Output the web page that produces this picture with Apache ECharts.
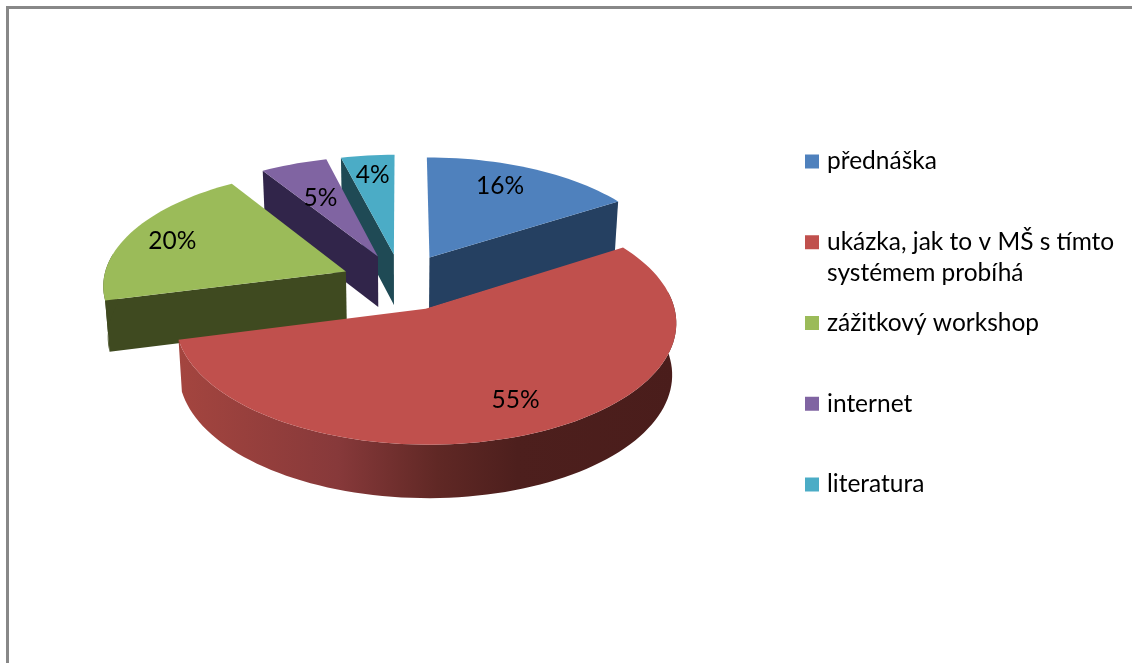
<!DOCTYPE html>
<html><head><meta charset="utf-8">
<script src="https://cdn.jsdelivr.net/npm/echarts@6/dist/echarts.min.js"></script>
<style>html,body{margin:0;padding:0;background:#fff}#c{width:1132px;height:663px}</style>
</head><body><div id="c"></div>
<script>
const categoryLines = [['přednáška'],['ukázka, jak to v MŠ s tímto','systémem probíhá'],['zážitkový workshop'],['internet'],['literatura']];
const categories = categoryLines.map(l => l.join(' '));
const values = [16, 55, 20, 5, 4];
const topColors = ['#4f81bd','#c0504d','#9bbb59','#8064a2','#4bacc6'];
const wallColors = ['#254061','#4f1f1d','#3f4a20','#31254a','#1f4a55'];
const drawOrder = [4,3,2,0,1];
const labelNudge = [[-8,-3],[8,1],[-12,0],[7,13],[-1,-3]];

const P = {cx:401.2, cy:282, R:243, Ry:115.5, k:0.105, explode:0.247, depth:51, shrink:0.985, labelR:0.75};
const FONT = 'Lato, "Open Sans", sans-serif';
const total = values.reduce((a,b)=>a+b,0);
const D2R = Math.PI/180;

function project(U,V){
  const s = 1/(1+P.k*V);
  return {x:P.cx + P.R*U*s, y:P.cy - P.Ry*V*s, s};
}
function lower(p){ return [P.cx + (p.x-P.cx)*P.shrink, p.y + P.depth*Math.pow(p.s,0.35)]; }
const flat = p => [p.x,p.y];

function sliceShapes(i){
  const before = values.slice(0,i).reduce((a,b)=>a+b,0);
  const a0 = before/total*360, a1 = (before+values[i])/total*360, mid=(a0+a1)/2;
  const ox = Math.sin(mid*D2R)*P.explode, oy = Math.cos(mid*D2R)*P.explode;
  const pt = (deg,r) => project(ox+r*Math.sin(deg*D2R), oy+r*Math.cos(deg*D2R));
  const steps = Math.max(8, Math.ceil((a1-a0)/2));
  const rim = [], front = [];
  for(let j=0;j<=steps;j++){
    const deg = a0+(a1-a0)*j/steps, p = pt(deg,1);
    rim.push(p);
    if(deg>=80 && deg<=280) front.push(p);
  }
  return {a0, a1, apex:pt(0,0), rim, front, label:pt(mid,P.labelR)};
}

function renderSlice(i){
  return function(){
    const g = sliceShapes(i);
    const wall = wallColors[i];
    const rimTop = g.rim.map(flat);
    const rimLow = g.rim.map(lower);
    const apexTop = flat(g.apex), apexLow = lower(g.apex);
    const outerFill = i===1
      ? new echarts.graphic.LinearGradient(178,0,677,0,[
          {offset:0,color:'#a4453f'},{offset:0.32,color:'#87393a'},
          {offset:0.52,color:'#602825'},{offset:0.68,color:'#4d1f1d'},{offset:1,color:'#4a1d1b'}],true)
      : wall;
    const poly = (pts,fill)=>({type:'polygon',shape:{points:pts},style:{fill}});
    const kids = [];
    if(Math.sin(g.a0*D2R) < -1e-6) kids.push(poly([apexTop,rimTop[0],rimLow[0],apexLow],wall));
    if(Math.sin(g.a1*D2R) > 1e-6) kids.push(poly([apexTop,rimTop[rimTop.length-1],rimLow[rimLow.length-1],apexLow],wall));
    if(g.front.length>1) kids.push(poly(g.front.map(flat).concat(g.front.map(lower).reverse()),outerFill));
    kids.push(poly([apexTop].concat(rimTop),topColors[i]));
    kids.push({type:'text',z2:10,style:{text:values[i]+'%',x:g.label.x+labelNudge[i][0],y:g.label.y+labelNudge[i][1],
        fill:'#000',font:'24.5px '+FONT,align:'center',verticalAlign:'middle'}});
    return {type:'group',children:kids};
  };
}

const series = drawOrder.map(i=>({
  type:'custom', name:categories[i], coordinateSystem:'none', silent:true,
  itemStyle:{color:topColors[i]}, data:[[values[i]]], renderItem:renderSlice(i)
}));

const chart = echarts.init(document.getElementById('c'),null,{renderer:'canvas'});
chart.setOption({
  animation:false, backgroundColor:'#fff',
  legend:{
    orient:'vertical', left:805, top:149, padding:0, itemWidth:14, itemHeight:14, itemGap:55.75,
    icon:'rect', selectedMode:false,
    data:categories.map((n,i)=>({name:n,itemStyle:{color:topColors[i]}})),
    formatter:n=>categoryLines[categories.indexOf(n)][0],
    textStyle:{fontFamily:'Lato',fontSize:24.5,color:'#000',lineHeight:24,padding:[0,0,0,3]}
  },
  graphic:[
    {type:'rect',shape:{x:6,y:6,width:1126,height:3},style:{fill:'#888'},silent:true},
    {type:'rect',shape:{x:6,y:6,width:3,height:657},style:{fill:'#888'},silent:true},
    {type:'text',x:827,y:273,silent:true,style:{text:categoryLines[1][1],fill:'#000',font:'24.5px Lato',align:'left',verticalAlign:'middle'}}
  ],
  series
});
</script></body></html>
